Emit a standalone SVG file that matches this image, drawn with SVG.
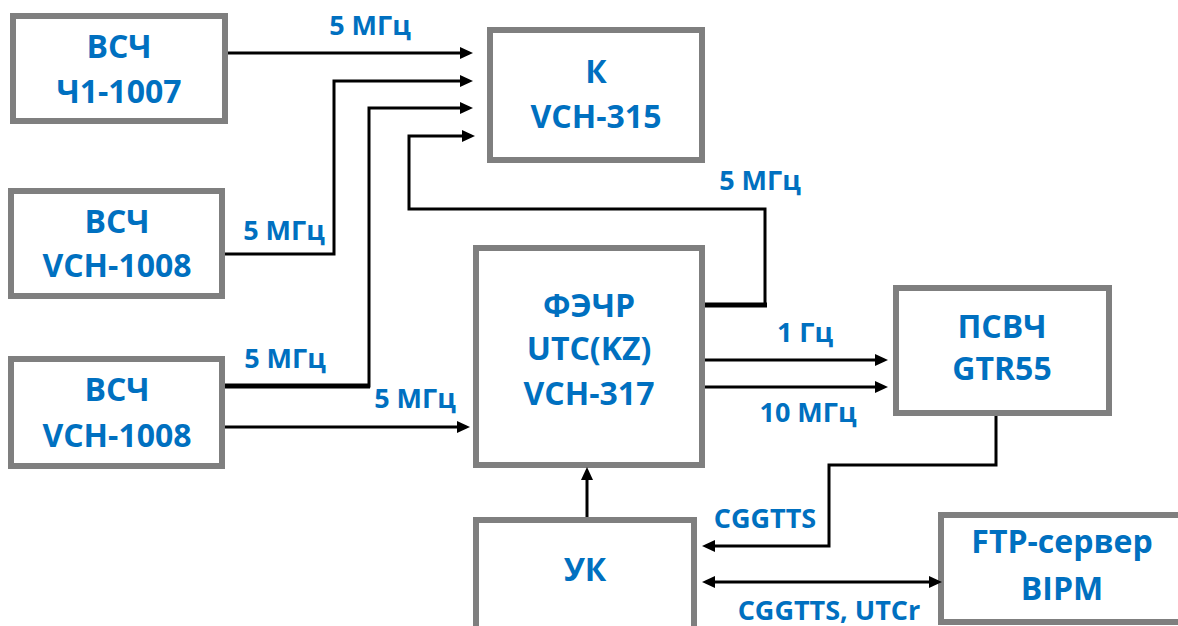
<svg xmlns="http://www.w3.org/2000/svg" width="1178" height="626" viewBox="0 0 1178 626">
<defs>
<marker id="arr" markerUnits="userSpaceOnUse" markerWidth="14" markerHeight="14" viewBox="0 0 14 14" refX="5" refY="7" orient="auto-start-reverse">
<path d="M0,1 L13,7 L0,13 z" fill="#000"/>
</marker>
</defs>
<style>
.box{fill:#fff;stroke:#7f7f7f;stroke-width:6}
.t{font-family:"Open Sans","Liberation Sans",sans-serif;font-weight:bold;font-size:32px;fill:#0070c0;text-anchor:middle}
.l{font-family:"Open Sans","Liberation Sans",sans-serif;font-weight:bold;font-size:27px;fill:#0070c0;text-anchor:middle}
.c{fill:none;stroke:#000;stroke-width:3}
.a{marker-end:url(#arr)}
.b{marker-start:url(#arr);marker-end:url(#arr)}
</style>
<rect width="1178" height="626" fill="#fff"/>
<g id="n1"><rect class="box" x="13" y="16" width="212" height="105"/><text class="t" x="119" y="58">ВСЧ</text><text class="t" x="119" y="103">Ч1-1007</text></g>
<g id="n2"><rect class="box" x="11" y="191" width="211" height="105"/><text class="t" x="117" y="233">ВСЧ</text><text class="t" x="117" y="277">VCH-1008</text></g>
<g id="n3"><rect class="box" x="11" y="359" width="211" height="107"/><text class="t" x="117" y="401">ВСЧ</text><text class="t" x="117" y="447">VCH-1008</text></g>
<g id="n4"><rect class="box" x="490" y="30" width="212" height="130"/><text class="t" x="596" y="83">К</text><text class="t" x="596" y="128">VCH-315</text></g>
<g id="n5"><rect class="box" x="476" y="248" width="226" height="217"/><text class="t" x="589" y="317">ФЭЧР</text><text class="t" x="589" y="360">UTC(KZ)</text><text class="t" x="589" y="405">VCH-317</text></g>
<g id="n6"><rect class="box" x="476" y="520" width="218" height="120"/><text class="t" x="585" y="581">УК</text></g>
<g id="n7"><rect class="box" x="896" y="288" width="213" height="125"/><text class="t" x="1002" y="338">ПСВЧ</text><text class="t" x="1002" y="380">GTR55</text></g>
<g id="n8"><rect class="box" x="941" y="515" width="250" height="107"/><text class="t" x="1062" y="553">FTP-сервер</text><text class="t" x="1062" y="600">BIPM</text></g>
<g id="connectors">
<path class="c a" d="M228,53 H465"/>
<path class="c a" d="M225,254 H334 V81 H465"/>
<path class="c a" d="M225,386 H369 V108 H465"/>
<path d="M225,386 H370" stroke="#000" stroke-width="5" fill="none"/>
<path class="c a" d="M705,305 H765 V209 H409 V136 H467" stroke-width="4"/>
<path d="M705,305 H767" stroke="#000" stroke-width="5" fill="none"/>
<path class="c a" d="M225,427 H462"/>
<path class="c a" d="M705,360 H880"/>
<path class="c a" d="M705,387 H880"/>
<path class="c a" d="M996,416 V465 H829 V546 H710" stroke-width="4"/>
<path class="c b" d="M710,582 H934"/>
<path class="c a" d="M587,517 V475"/>
<text class="l" x="370" y="35">5 МГц</text>
<text class="l" x="284" y="240">5 МГц</text>
<text class="l" x="760" y="190">5 МГц</text>
<text class="l" x="285" y="368">5 МГц</text>
<text class="l" x="415" y="408">5 МГц</text>
<text class="l" x="805" y="342">1 Гц</text>
<text class="l" x="808" y="422">10 МГц</text>
<text class="l" x="765" y="528">CGGTTS</text>
<text class="l" x="829" y="620">CGGTTS, UTCr</text>
</g>
</svg>
